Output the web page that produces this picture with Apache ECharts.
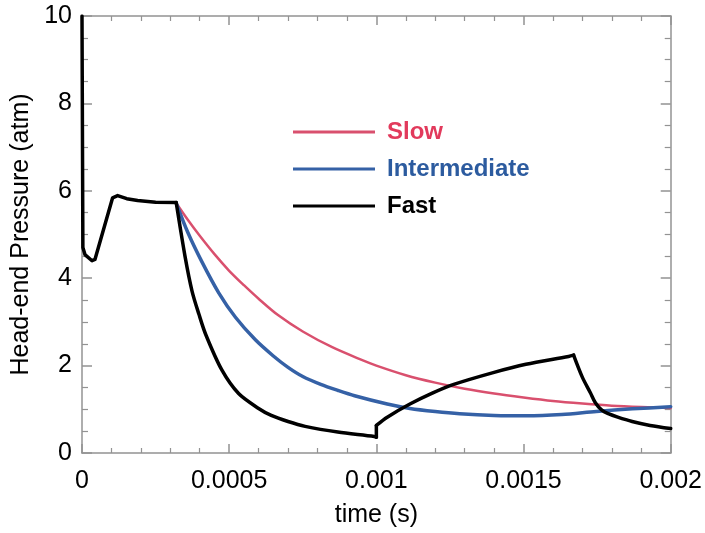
<!DOCTYPE html>
<html>
<head>
<meta charset="utf-8">
<script src="https://cdn.jsdelivr.net/npm/echarts@6/dist/echarts.min.js"></script>
<style>
html,body{margin:0;padding:0;background:#fff;}
#chart{width:705px;height:533px;}
</style>
</head>
<body>
<div id="chart"></div>
<script>
// ---- data (time in s, pressure in atm) ----
const xTickLabels = ['0', '0.0005', '0.001', '0.0015', '0.002'];
const yTickLabels = ['0', '2', '4', '6', '8', '10'];
const seriesNames = ['Slow', 'Intermediate', 'Fast'];

const slowT = [0.00032, 0.00036, 0.0004, 0.00045, 0.0005, 0.00055, 0.0006, 0.000667, 0.00075, 0.00085, 0.00095, 0.001, 0.0011, 0.0012, 0.0013, 0.0014, 0.0015, 0.0016, 0.0017, 0.0018, 0.0019, 0.002];
const slowP = [5.72, 5.33, 4.97, 4.55, 4.17, 3.84, 3.53, 3.15, 2.78, 2.42, 2.13, 2.0, 1.78, 1.61, 1.47, 1.36, 1.27, 1.19, 1.13, 1.08, 1.05, 1.03];

const interT = [0.00032, 0.00036, 0.000407, 0.000465, 0.000522, 0.000589, 0.00065, 0.0007, 0.00075, 0.000811, 0.00087, 0.000926, 0.001037, 0.001114, 0.0012, 0.001283, 0.0014, 0.001508, 0.00163, 0.001747, 0.00187, 0.002];
const interP = [5.72, 5.04, 4.38, 3.66, 3.1, 2.59, 2.22, 1.96, 1.75, 1.57, 1.43, 1.31, 1.12, 1.02, 0.95, 0.9, 0.86, 0.85, 0.88, 0.95, 1.01, 1.06];

// Fast: pieces (start, first decay, jump at 0.001, rise, last decay)
const fastStartT = [0, 0.000003, 0.00001, 0.000034, 0.000044, 0.000104, 0.000121, 0.000152, 0.000189, 0.00025, 0.00032];
const fastStartP = [10, 4.7, 4.54, 4.4, 4.43, 5.84, 5.89, 5.82, 5.78, 5.74, 5.73];
const fastDecayT = [0.00032, 0.00035, 0.000374, 0.000397, 0.000421, 0.000475, 0.000532, 0.0006, 0.000643, 0.0007, 0.000758, 0.000869, 0.000993, 0.001];
const fastDecayP = [5.73, 4.5, 3.7, 3.18, 2.7, 1.9, 1.36, 1.02, 0.86, 0.72, 0.61, 0.48, 0.38, 0.36];
const fastJumpT = [0.001, 0.001];
const fastJumpP = [0.36, 0.63];
const fastRiseT = [0.001, 0.001037, 0.001114, 0.00119, 0.001263, 0.001397, 0.001508, 0.001653, 0.00167];
const fastRiseP = [0.63, 0.82, 1.12, 1.37, 1.57, 1.84, 2.03, 2.21, 2.24];
const fastDropT = [0.00167, 0.0017, 0.001727, 0.001744, 0.001766, 0.001788, 0.00182, 0.001869, 0.00193, 0.002];
const fastDropP = [2.24, 1.73, 1.38, 1.15, 0.98, 0.9, 0.82, 0.72, 0.63, 0.56];

const colors = { Slow: '#d9506e', Intermediate: '#3561a6', Fast: '#000000' };
const legendTextColors = { Slow: '#e23a5c', Intermediate: '#2c5b9f', Fast: '#000000' };

function pairs(t, p) { return t.map((v, i) => [v, p[i]]); }

const FONT = '"Liberation Sans", Arial, sans-serif';
const AXIS_COLOR = '#939393';

function xAxisCfg(pos, showLabels) {
  return {
    type: 'value', position: pos, min: 0, max: 0.002, interval: 0.0005,
    axisLine: { show: true, onZero: false, lineStyle: { color: AXIS_COLOR, width: 1.5 } },
    axisTick: { show: true, inside: true, length: 9, lineStyle: { color: AXIS_COLOR, width: 1.5 } },
    minorTick: { show: true, splitNumber: 5, length: 5, lineStyle: { color: AXIS_COLOR, width: 1.2 } },
    splitLine: { show: false },
    axisLabel: {
      show: showLabels, fontSize: 25, color: '#000', fontFamily: FONT, margin: 16,
      formatter: v => xTickLabels[Math.round(v / 0.0005)]
    },
    name: showLabels ? 'time (s)' : '', nameLocation: 'middle', nameGap: 50,
    nameTextStyle: { fontSize: 25, color: '#000', fontFamily: FONT }
  };
}
function yAxisCfg(pos, showLabels) {
  return {
    type: 'value', position: pos, min: 0, max: 10, interval: 2,
    axisLine: { show: true, onZero: false, lineStyle: { color: AXIS_COLOR, width: 1.5 } },
    axisTick: { show: true, inside: true, length: 10, lineStyle: { color: AXIS_COLOR, width: 1.5 } },
    minorTick: { show: true, splitNumber: 4, length: 6, lineStyle: { color: AXIS_COLOR, width: 1.2 } },
    splitLine: { show: false },
    axisLabel: {
      show: showLabels, fontSize: 25, color: '#000', fontFamily: FONT, margin: 10,
      formatter: v => yTickLabels[Math.round(v / 2)]
    },
    name: showLabels ? 'Head-end Pressure (atm)' : '', nameLocation: 'middle', nameGap: 47,
    nameTextStyle: { fontSize: 25, color: '#000', fontFamily: FONT }
  };
}

function lineSeries(name, data, width, smooth) {
  return {
    name: name, type: 'line', data: data, xAxisIndex: 0, yAxisIndex: 0,
    showSymbol: false, symbol: 'none', smooth: smooth,
    lineStyle: { color: colors[name], width: width, cap: 'round', join: 'round' },
    itemStyle: { color: colors[name] },
    z: 2
  };
}

const chart = echarts.init(document.getElementById('chart'), null, { renderer: 'canvas' });
chart.setOption({
  animation: false,
  backgroundColor: '#fff',
  grid: { left: 82, right: 29, top: 16, bottom: 73, containLabel: false },
  xAxis: [xAxisCfg('bottom', true), xAxisCfg('top', false)],
  yAxis: [yAxisCfg('left', true), yAxisCfg('right', false)],
  legend: {
    orient: 'vertical', left: 293, top: 118, padding: 0,
    icon: 'rect', itemWidth: 82, itemHeight: 3, itemGap: 9,
    data: seriesNames.map(n => ({
      name: n,
      textStyle: { color: legendTextColors[n], fontWeight: 'bold', fontSize: 24, fontFamily: FONT, lineHeight: 28, padding: [0, 0, 0, 7] }
    }))
  },
  series: [
    lineSeries('Slow', pairs(slowT, slowP), 2.5, 0.3),
    lineSeries('Intermediate', pairs(interT, interP), 3.5, 0.3),
    lineSeries('Fast', pairs(fastStartT, fastStartP), 3.5, false),
    lineSeries('Fast', pairs(fastDecayT, fastDecayP), 3.5, 0.3),
    lineSeries('Fast', pairs(fastJumpT, fastJumpP), 3.5, false),
    lineSeries('Fast', pairs(fastRiseT, fastRiseP), 3.5, 0.3),
    lineSeries('Fast', pairs(fastDropT, fastDropP), 3.5, 0.3)
  ]
});
</script>
</body>
</html>
